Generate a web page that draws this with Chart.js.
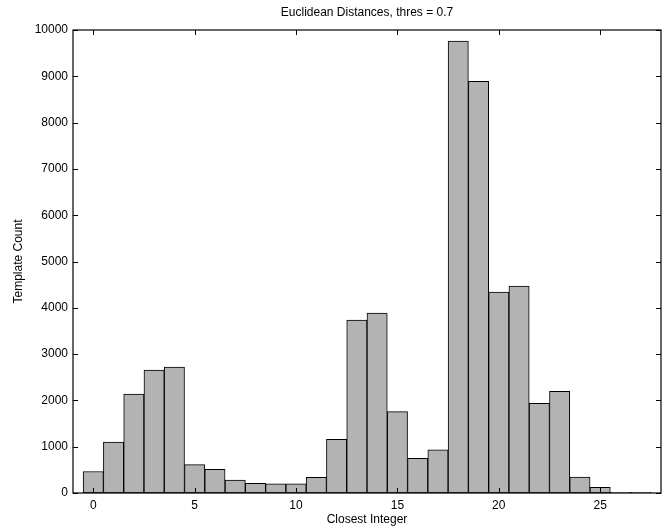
<!DOCTYPE html>
<html>
<head>
<meta charset="utf-8">
<script src="https://cdn.jsdelivr.net/npm/chart.js@4/dist/chart.umd.min.js"></script>
<style>
html,body{margin:0;padding:0;background:#fff;}
#wrap{width:667px;height:529px;position:relative;}
</style>
</head>
<body>
<div id="wrap"><canvas id="c" width="667" height="529"></canvas></div>
<script>
const chartTitle = 'Euclidean Distances, thres = 0.7';
const xLabel = 'Closest Integer';
const yLabel = 'Template Count';
const categories = [0,1,2,3,4,5,6,7,8,9,10,11,12,13,14,15,16,17,18,19,20,21,22,23,24,25,26,27];
const counts = [465,1100,2135,2655,2720,612,512,280,210,200,200,340,1160,3737,3888,1756,750,935,9762,8890,4340,4470,1937,2196,345,123,12,12];
const xTicks = [0,5,10,15,20,25];
const yTicks = [0,1000,2000,3000,4000,5000,6000,7000,8000,9000,10000];
const xMin = -1, xMax = 28, yMin = 0, yMax = 10000;

const FONT = "'Liberation Sans', Arial, Helvetica, sans-serif";

const boxPlugin = {
  id: 'box',
  afterDatasetsDraw(chart) {
    const {ctx, chartArea: a, scales} = chart;
    const L = 5;
    ctx.save();
    ctx.strokeStyle = '#000';
    ctx.lineWidth = 1.2;
    ctx.strokeRect(a.left, a.top, a.right - a.left, a.bottom - a.top);
    ctx.lineWidth = 1;
    ctx.beginPath();
    xTicks.forEach(v => {
      const x = Math.round(scales.x.getPixelForValue(v)) + 0.5;
      ctx.moveTo(x, a.bottom); ctx.lineTo(x, a.bottom - L);
      ctx.moveTo(x, a.top); ctx.lineTo(x, a.top + L);
    });
    yTicks.forEach(v => {
      const y = Math.round(scales.y.getPixelForValue(v)) + 0.5;
      ctx.moveTo(a.left, y); ctx.lineTo(a.left + L, y);
      ctx.moveTo(a.right, y); ctx.lineTo(a.right - L, y);
    });
    ctx.stroke();
    ctx.restore();
  }
};

new Chart(document.getElementById('c'), {
  type: 'bar',
  data: {
    datasets: [{
      data: categories.map((c, i) => ({x: c, y: counts[i]})),
      backgroundColor: '#b3b3b3',
      borderColor: '#000',
      borderWidth: 1,
      borderSkipped: false,
      barPercentage: 1,
      categoryPercentage: 1
    }]
  },
  options: {
    responsive: false,
    animation: false,
    events: [],
    layout: {padding: {left: 0, right: 6, top: 0, bottom: 0}},
    plugins: {
      legend: {display: false},
      tooltip: {enabled: false},
      title: {
        display: true,
        text: chartTitle,
        fullSize: false,
        color: '#000',
        font: {family: FONT, size: 12, weight: 'normal', lineHeight: 1.2},
        padding: {top: 5, bottom: 10.6}
      }
    },
    scales: {
      x: {
        type: 'linear',
        offset: false,
        min: xMin, max: xMax,
        grid: {display: false, drawTicks: false, offset: false},
        border: {display: false},
        afterBuildTicks: s => { s.ticks = xTicks.map(v => ({value: v})); },
        afterFit: s => { s.height = 36; },
        ticks: {color: '#000', font: {family: FONT, size: 12}, padding: 5, maxRotation: 0, autoSkip: false},
        title: {display: true, text: xLabel, color: '#000', font: {family: FONT, size: 12}, padding: {top: 0, bottom: 2}}
      },
      y: {
        type: 'linear',
        min: yMin, max: yMax,
        grid: {display: false, drawTicks: false},
        border: {display: false},
        afterBuildTicks: s => { s.ticks = yTicks.map(v => ({value: v})); },
        afterFit: s => { s.width = 73; },
        ticks: {color: '#000', font: {family: FONT, size: 12}, padding: 5, autoSkip: false, callback: v => String(v)},
        title: {display: true, text: yLabel, color: '#000', font: {family: FONT, size: 12}, padding: {top: 11, bottom: 0}}
      }
    }
  },
  plugins: [boxPlugin]
});
</script>
</body>
</html>
